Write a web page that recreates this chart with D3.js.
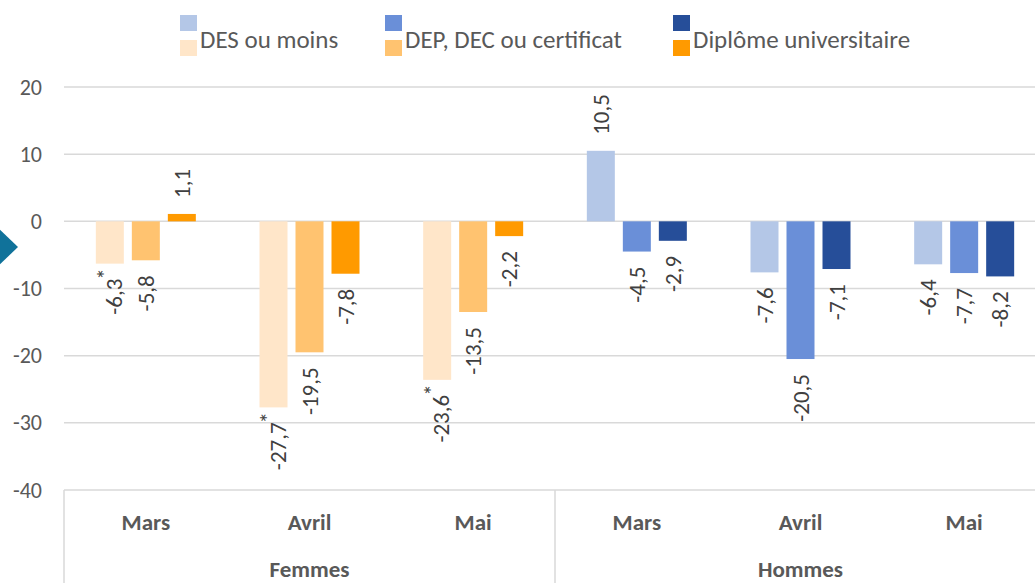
<!DOCTYPE html>
<html>
<head>
<meta charset="utf-8">
<script src="https://cdn.jsdelivr.net/npm/d3@7"></script>
<style>
  html, body { margin: 0; padding: 0; background: #fff; overflow: hidden; }
  svg { display: block; font-family: Carlito, Lato, sans-serif; }
</style>
</head>
<body>
<svg id="chart" width="1035" height="583"></svg>
<script>
// Variation (%) by education level, month and sex.
const groups = ['Femmes', 'Hommes'];
const months = ['Mars', 'Avril', 'Mai'];
const series = ['DES ou moins', 'DEP, DEC ou certificat', 'Diplôme universitaire'];

// one row per series, one value per month
const femmesValues = [
  [-6.3, -27.7, -23.6],
  [-5.8, -19.5, -13.5],
  [1.1, -7.8, -2.2]
];
const hommesValues = [
  [10.5, -7.6, -6.4],
  [-4.5, -20.5, -7.7],
  [-2.9, -7.1, -8.2]
];
// values flagged with an asterisk (use with caution)
const femmesStar = [
  [true, true, true],
  [false, false, false],
  [false, false, false]
];
const hommesStar = [
  [false, false, false],
  [false, false, false],
  [false, false, false]
];

const yTicks = [20, 10, 0, -10, -20, -30, -40];
const femmesColors = ['#FFE6C9', '#FFC370', '#FF9A00'];
const hommesColors = ['#B4C7E7', '#6A8FD8', '#264E99'];

const fr = d3.formatLocale({ decimal: ',', thousands: ' ', grouping: [3], currency: ['', ''], minus: '-' });
const fmt = fr.format('.1f');
const tickFmt = fr.format('d');

// flatten into rows the scales can use
const rows = [];
groups.forEach((g, gi) => {
  const vals = gi === 0 ? femmesValues : hommesValues;
  const stars = gi === 0 ? femmesStar : hommesStar;
  const cols = gi === 0 ? femmesColors : hommesColors;
  months.forEach((m, mi) => {
    series.forEach((s, si) => {
      rows.push({ group: g, month: m, key: g + '|' + m, series: s,
                  value: vals[si][mi], star: stars[si][mi], color: cols[si] });
    });
  });
});
const catKeys = [];
groups.forEach(g => months.forEach(m => catKeys.push(g + '|' + m)));

const svg = d3.select('#chart');
const plotLeft = 64, plotRight = 1046, plotTop = 87, plotBottom = 490;

const y = d3.scaleLinear().domain([-40, 20]).range([plotBottom, plotTop]);
const x0 = d3.scaleBand().domain(catKeys).range([plotLeft, plotRight]).padding(0);
const x1 = d3.scaleBand().domain(series).range([0, 100]).paddingInner(8 / 36).paddingOuter(0);
const barX = d => x0(d.key) + x0.bandwidth() / 2 - 50 + x1(d.series);

// gridlines
svg.append('g')
  .selectAll('line')
  .data(yTicks)
  .join('line')
    .attr('x1', plotLeft).attr('x2', 1035)
    .attr('y1', d => y(d)).attr('y2', d => y(d))
    .attr('stroke', '#D9D9D9')
    .attr('stroke-width', 1.5);

// y axis labels
const yAxis = svg.append('g')
    .attr('transform', `translate(${plotLeft - 22},0)`)
    .call(d3.axisLeft(y).tickValues(yTicks).tickFormat(tickFmt).tickSize(0).tickPadding(0));
yAxis.select('.domain').remove();
yAxis.selectAll('text')
    .attr('font-family', 'Carlito, Lato, sans-serif')
    .attr('font-size', 22)
    .attr('fill', '#595959');

// bars
svg.append('g')
  .selectAll('rect')
  .data(rows)
  .join('rect')
    .attr('x', barX)
    .attr('width', x1.bandwidth())
    .attr('y', d => y(Math.max(0, d.value)))
    .attr('height', d => Math.abs(y(d.value) - y(0)))
    .attr('fill', d => d.color);

// data labels, rotated
const labels = svg.append('g')
  .selectAll('g')
  .data(rows)
  .join('g')
    .attr('transform', d => {
      const cx = barX(d) + x1.bandwidth() / 2 + (d.star ? 4 : 0);
      const yy = d.value < 0 ? y(d.value) + 15 : y(d.value) - 16;
      return `translate(${cx},${yy}) rotate(-90)`;
    });
labels.append('text')
    .attr('text-anchor', d => d.value < 0 ? 'end' : 'start')
    .attr('dy', '0.35em')
    .attr('font-size', 23)
    .attr('fill', '#404040')
    .text(d => fmt(d.value));
labels.filter(d => d.star)
  .append('text')
    .attr('x', -1)
    .attr('dy', '-0.05em')
    .attr('font-size', 23)
    .attr('fill', '#404040')
    .text('*');

// category axis (months + groups)
const axisG = svg.append('g');
[0, 3].forEach(i => {
  const xx = x0(catKeys[i]);
  axisG.append('line')
    .attr('x1', xx).attr('x2', xx)
    .attr('y1', plotBottom).attr('y2', 583)
    .attr('stroke', '#D9D9D9').attr('stroke-width', 1.5);
});
axisG.selectAll('text.month')
  .data(catKeys)
  .join('text')
    .attr('class', 'month')
    .attr('x', d => x0(d) + x0.bandwidth() / 2)
    .attr('y', 530)
    .attr('text-anchor', 'middle')
    .attr('font-size', 23)
    .attr('font-weight', 'bold')
    .attr('fill', '#595959')
    .text(d => d.split('|')[1]);
axisG.selectAll('text.group')
  .data(groups)
  .join('text')
    .attr('class', 'group')
    .attr('x', g => (x0(g + '|' + months[0]) + x0(g + '|' + months[2]) + x0.bandwidth()) / 2)
    .attr('y', 577)
    .attr('text-anchor', 'middle')
    .attr('font-size', 23)
    .attr('font-weight', 'bold')
    .attr('fill', '#595959')
    .text(g => g);

// legend: each entry shows the men's (top) and women's (bottom) swatch
const legendX = [180, 385, 673];
const legend = svg.append('g')
  .selectAll('g')
  .data(series)
  .join('g')
    .attr('transform', (d, i) => `translate(${legendX[i]},0)`);
legend.append('rect')
    .attr('x', 0).attr('y', 15).attr('width', 17).attr('height', 16)
    .attr('fill', (d, i) => hommesColors[i]);
legend.append('rect')
    .attr('x', 0).attr('y', 40).attr('width', 17).attr('height', 16)
    .attr('fill', (d, i) => femmesColors[i]);
legend.append('text')
    .attr('x', 20).attr('y', 48)
    .attr('font-size', 25)
    .attr('fill', '#595959')
    .text(d => d);

// decorative diamond on the left edge
svg.append('path')
    .attr('d', 'M-6,224 L18,247 L-6,270 L-30,247 Z')
    .attr('fill', '#10729A');
</script>
</body>
</html>
